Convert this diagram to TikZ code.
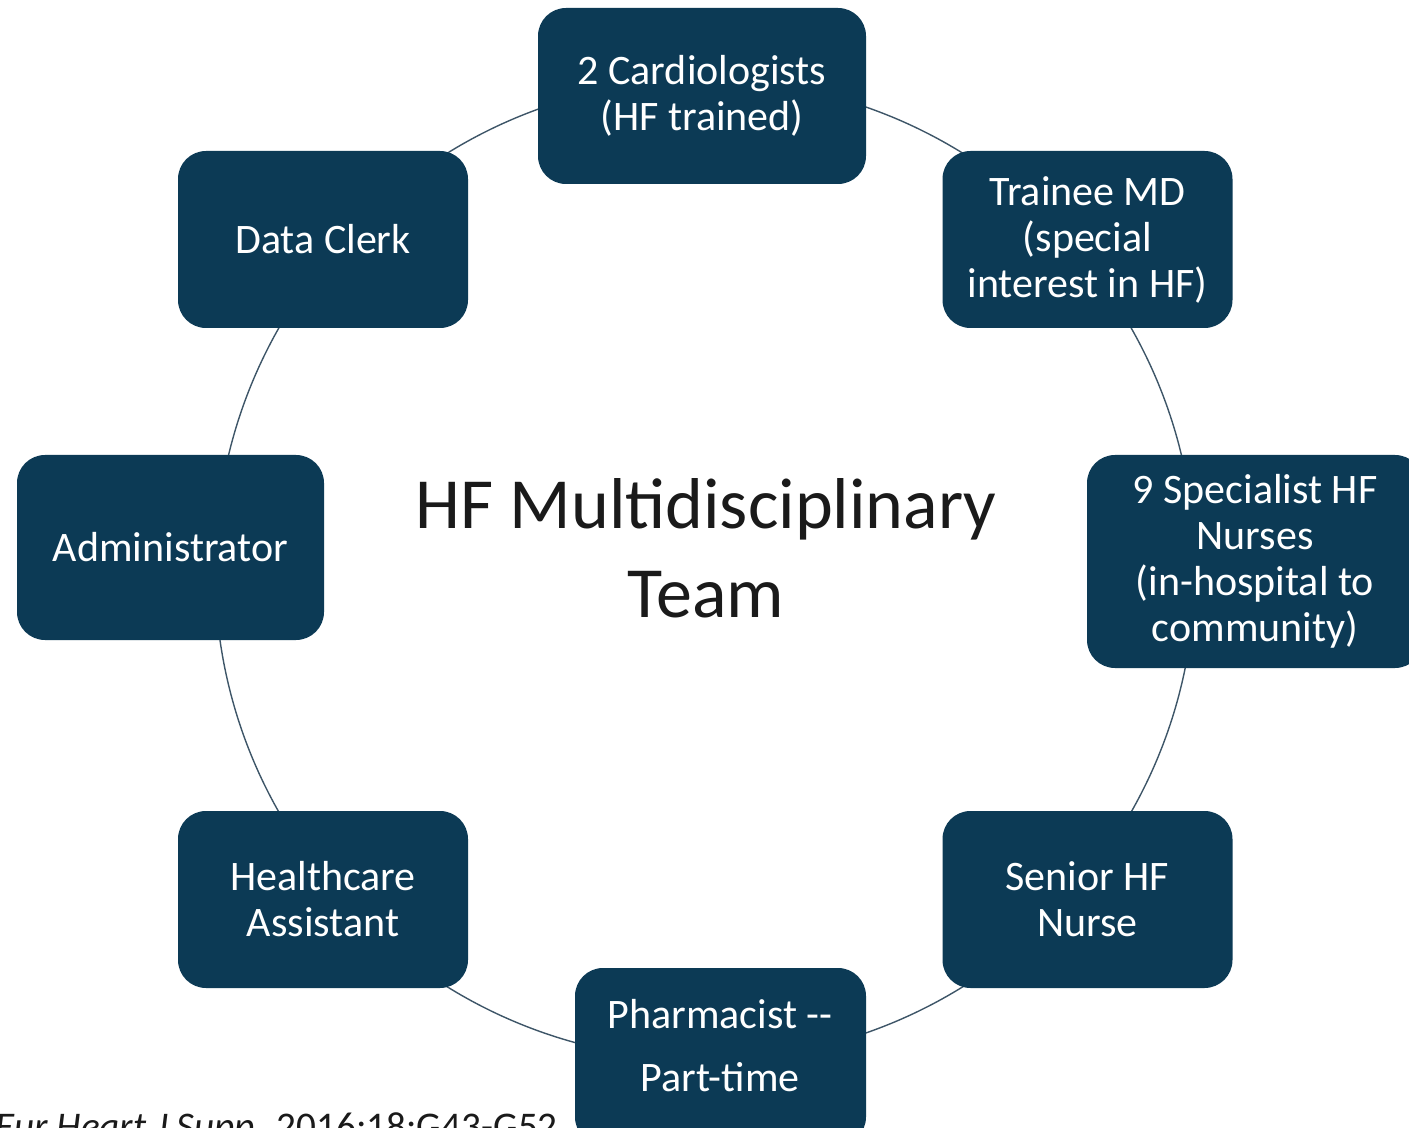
\documentclass[tikz,border=0pt]{standalone}
\usepackage{fontspec}
\setmainfont{Carlito}
\definecolor{navy}{HTML}{0C3A55}
\definecolor{ringcol}{HTML}{3E5668}
\definecolor{titlecol}{HTML}{1A1A1A}
\begin{document}
\begin{tikzpicture}[x=0.5pt,y=-0.5pt,
  rolebox/.style={draw=none,fill=navy,rounded corners=14pt,text=white,align=center,
    minimum width=145pt,minimum height=88.5pt,inner sep=0pt,
    font=\fontsize{21pt}{23pt}\selectfont},
  ring/.style={draw=ringcol,line width=0.7pt}]
\useasboundingbox (0,0) rectangle (1409,1128);
\clip (0,0) rectangle (1409,1128);
\fill[white] (0,0) rectangle (1409,1128);
\coordinate (ctr) at (705,570);
\draw[ring] (ctr) circle[radius=245pt];
\node[rolebox,minimum width=164pt,minimum height=88pt] (card) at (702,96) {2 Cardiologists\\(HF trained)};
\node[rolebox] (trainee) at (1087.5,239.5) {Trainee MD\\(special\\interest in HF)};
\node[rolebox,minimum width=168pt,minimum height=106.5pt] (spec) at (1255,561.5) {9 Specialist HF\\Nurses\\(in-hospital to\\community)};
\node[rolebox] (senior) at (1087.5,899.5) {Senior HF\\Nurse};
\node[rolebox,minimum width=145.5pt,minimum height=88.5pt] (pharm) at (720.5,1056.5) {};
\node[text=white,align=center,font=\fontsize{21pt}{31.5pt}\selectfont] (pharmtxt) at (720,1046) {Pharmacist -{}-\\Part-time};
\node[rolebox] (hca) at (323,899.5) {Healthcare\\Assistant};
\node[rolebox,minimum width=153.5pt,minimum height=92.5pt] (admin) at (170.5,547.5) {Administrator};
\node[rolebox] (clerk) at (323,239.5) {Data Clerk};
\node[text=titlecol,align=center,font=\fontsize{36pt}{44.5pt}\selectfont] (title) at (706,548) {HF Multidisciplinary\\Team};
\node[anchor=base west,inner sep=0pt,text=titlecol,font=\fontsize{19.6pt}{22pt}\selectfont] (cite) at (-5,1139) {\textit{Eur Heart J Supp}. 2016;18:G43-G52};
\end{tikzpicture}
\end{document}
